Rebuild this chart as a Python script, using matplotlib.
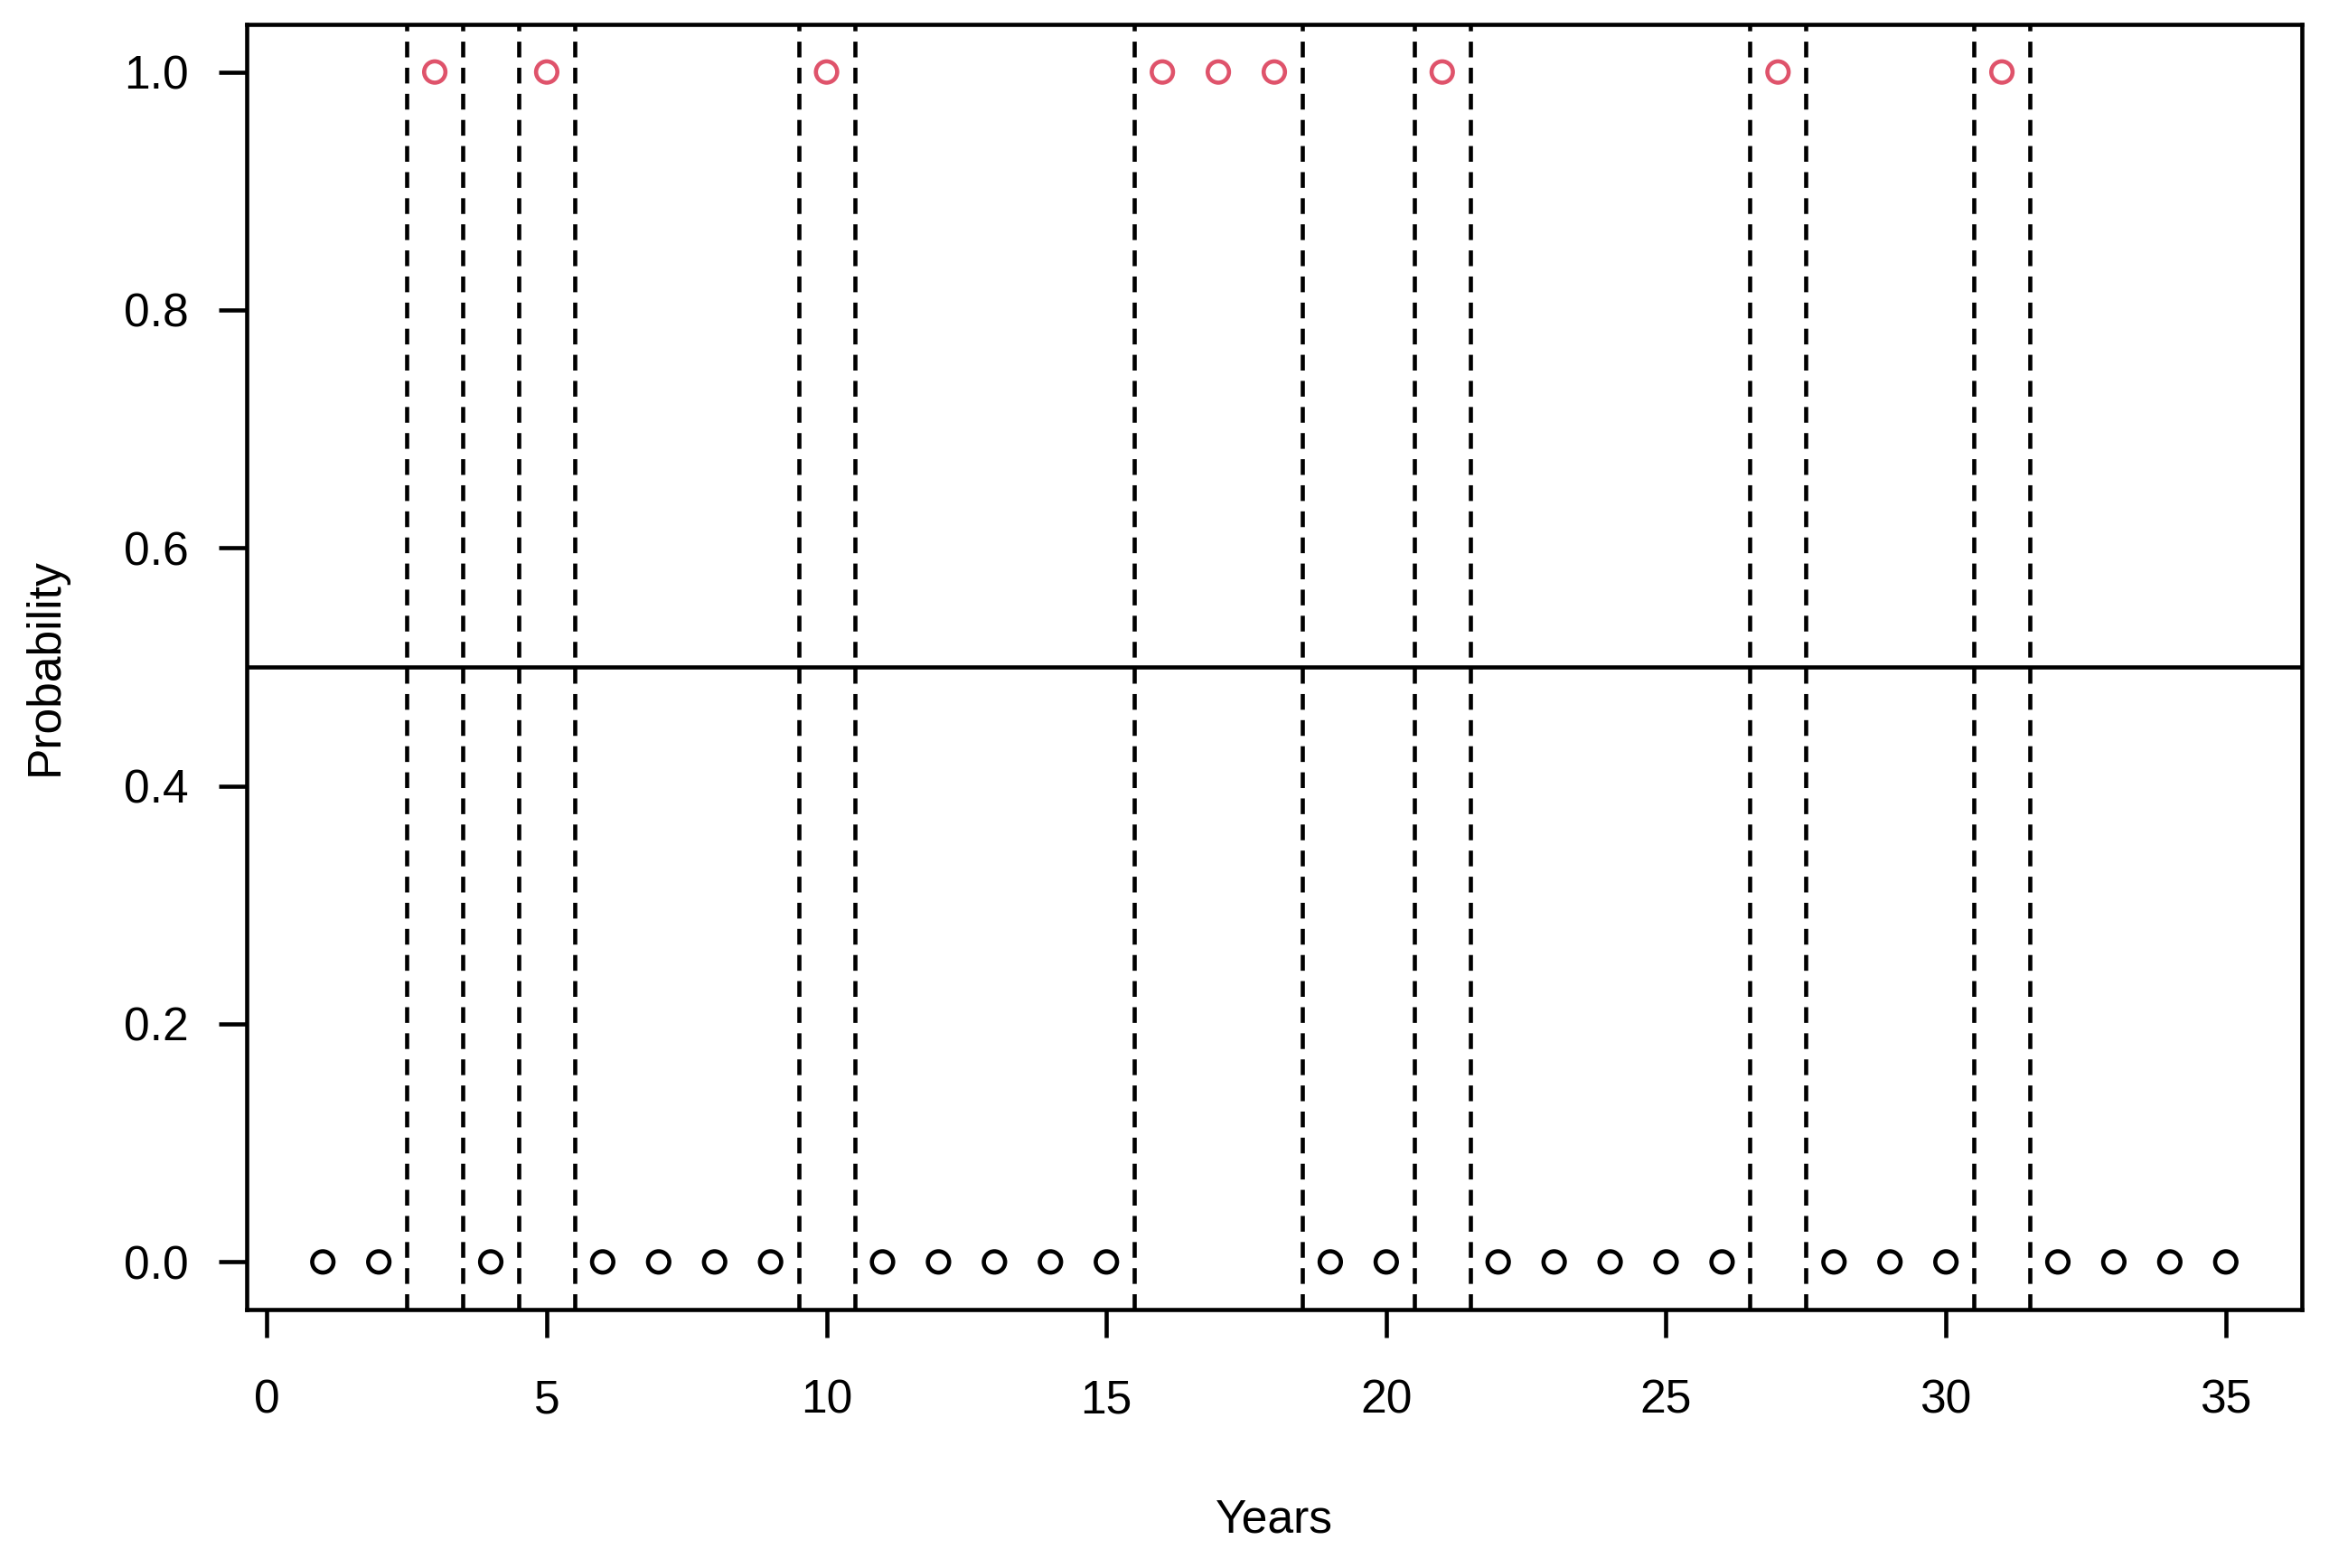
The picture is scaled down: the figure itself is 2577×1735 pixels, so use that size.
import matplotlib
matplotlib.use("Agg")
import matplotlib.pyplot as plt
import numpy as np

# data
years = list(range(1, 36))
state = [0, 0, 1, 0, 1, 0, 0, 0, 0, 1,
         0, 0, 0, 0, 0, 1, 1, 1, 0, 0,
         1, 0, 0, 0, 0, 0, 1, 0, 0, 0,
         1, 0, 0, 0, 0]
breaks = [2.5, 3.5, 4.5, 5.5, 9.5, 10.5, 15.5, 18.5, 20.5, 21.5,
          26.5, 27.5, 30.5, 31.5]
threshold = 0.5

plt.rcParams['font.family'] = ['Liberation Sans', 'DejaVu Sans']

W, H = 2577, 1735
fig = plt.figure(figsize=(W / 300, H / 300), dpi=300)
# axes box in pixels: left 273, right 2547, top 27, bottom 1449
ax = fig.add_axes([273 / W, 1 - 1449 / H, (2547 - 273) / W, (1449 - 27) / H])

x = np.array(years)
y = np.array(state)
cols = np.where(y == 1, '#DF536B', 'black')
ax.scatter(x, y, s=32, facecolors='none', edgecolors=cols, linewidths=1.1, zorder=3)

for b in breaks:
    ax.axvline(b, color='black', lw=1.1, linestyle=(0, (3.8, 2.5)))
ax.axhline(threshold, color='black', lw=1.1)

# R style 4% padding
ax.set_xlim(1 - 0.04 * 34, 35 + 0.04 * 34)
ax.set_ylim(-0.04, 1.04)
ax.set_xticks(range(0, 36, 5))
ax.set_yticks([0.0, 0.2, 0.4, 0.6, 0.8, 1.0])
ax.set_yticklabels(['0.0', '0.2', '0.4', '0.6', '0.8', '1.0'])

for s in ax.spines.values():
    s.set_linewidth(1.1)
ax.tick_params(direction='out', length=7.4, width=1.1, labelsize=12.4)
ax.tick_params(axis='x', pad=11)
ax.tick_params(axis='y', pad=8)

ax.set_xlabel('Years', fontsize=12.4, labelpad=20)
ax.set_ylabel('Probability', fontsize=12.4, labelpad=15)

fig.savefig('out.png', dpi=300)
